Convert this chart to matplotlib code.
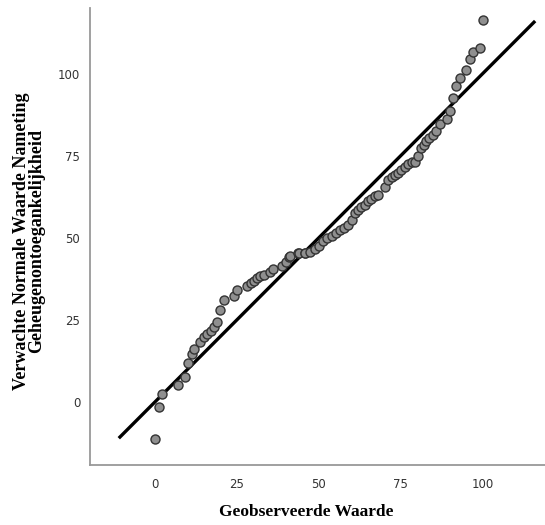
import matplotlib
matplotlib.use("Agg")
import matplotlib.pyplot as plt

# Observed values (x) and expected normal values (y)
observed = [0, 1.2, 2.2, 7.1, 9.1, 10.2, 11.2, 12, 13.9, 15, 15.8, 17, 18, 19.1, 20, 21.1,
            24.1, 25.1, 28.1, 29.2, 30.2, 31.2, 32.2, 33.2, 35, 36.1, 38.9, 39.9, 41, 41.2,
            43.7, 44, 45.7, 45.9, 47.3, 48.8, 50.1, 51.3, 52.5, 53.9, 55.2, 56.4, 57.6, 58.9,
            60, 61, 62, 63, 64, 65, 66, 67, 68.1, 70.1, 71.1, 72.2, 73.2, 74.2, 75.2, 76.2,
            77.3, 78.3, 79.3, 80.3, 81.3, 82, 82.8, 83.6, 84.7, 85.7, 87.1, 89.1, 89.9, 90.9,
            92, 93, 95, 96, 97, 99.1, 100.1]
expected = [-11.3, -1.4, 2.4, 5.3, 7.7, 11.8, 14.6, 16.1, 18.3, 19.7, 20.7, 21.7, 22.8, 24.5,
            28, 31.1, 32.4, 34.1, 35.4, 36.2, 37, 37.9, 38.4, 38.6, 39.6, 40.6, 41.5, 42.6,
            44.3, 44.5, 45.3, 45.3, 45.5, 45.4, 45.8, 46.5, 47.6, 48.9, 49.9, 50.6, 51.4, 52.4,
            52.9, 53.8, 55.5, 57.5, 58.5, 59.3, 60, 61.1, 61.8, 62.6, 63.1, 65.5, 67.7, 68.4,
            69.2, 69.7, 70.7, 71.7, 72.6, 73, 73.1, 74.8, 77.3, 78.4, 79.4, 80.4, 81.4, 82.4,
            84.5, 86.2, 88.5, 92.6, 96.3, 98.7, 101, 104.3, 106.5, 107.7, 116.2]
ref_line = [-11, 116]
ticks = [0, 25, 50, 75, 100]

fig = plt.figure(figsize=(5.45, 5.25), dpi=100)
ax = fig.add_axes([0.165, 0.114, 0.835, 0.871])

ax.plot(ref_line, ref_line, color="black", linewidth=2.4, zorder=2, solid_capstyle="butt")
ax.plot(observed, expected, linestyle="none", marker="o", markersize=6.5,
        markerfacecolor="#8f8f8f", markeredgecolor="#333333", markeredgewidth=1.0, zorder=3)

ax.set_xlim(-19.8, 119)
ax.set_ylim(-19.2, 120)
ax.set_xticks(ticks)
ax.set_yticks(ticks)
ax.tick_params(length=0, labelsize=8.5, labelcolor="#333333", pad=7)
ax.tick_params(axis="x", pad=9)

for s in ["top", "right"]:
    ax.spines[s].set_visible(False)
for s in ["left", "bottom"]:
    ax.spines[s].set_color("#999999")
    ax.spines[s].set_linewidth(1.3)

ax.set_xlabel("Geobserveerde Waarde", fontfamily="Liberation Serif", fontweight="bold", fontsize=12.5)
ax.xaxis.set_label_coords(0.475, -0.085)
ax.set_ylabel("Verwachte Normale Waarde Nameting\nGeheugenontoegankelijkheid",
              fontfamily="Liberation Serif", fontweight="bold", fontsize=13, linespacing=0.85)
ax.yaxis.set_label_coords(-0.099, 0.49)

fig.savefig("out.png", dpi=100)
